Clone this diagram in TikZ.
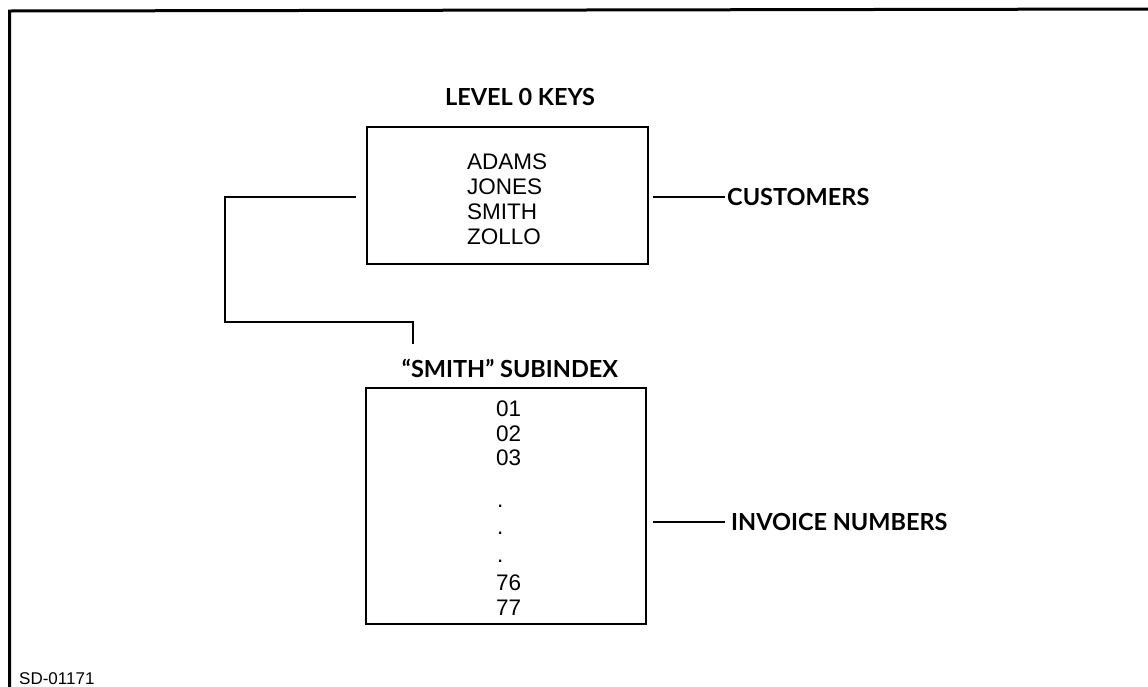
\documentclass[tikz,border=0pt]{standalone}
\usepackage{fontspec}
\setmainfont{Liberation Sans}
\newfontfamily\lblfont{Lato}
\begin{document}
\begin{tikzpicture}[x=1pt,y=-1pt,
  box/.style={draw,line width=2.4pt,minimum width=#1,inner sep=0pt},
  entry/.style={anchor=base west,inner sep=0pt,font=\fontsize{22.5}{26}\selectfont},
  lbl/.style={inner sep=0pt,font=\lblfont\bfseries\fontsize{23.5}{27}\selectfont},
  conn/.style={line width=1.9pt}]
\useasboundingbox (0,0) rectangle (1148,686);
% frame
\draw[line width=3pt] (9.5,700) -- (9.5,11) -- (1160,9);
% top box
\node[box=281pt,minimum height=137pt] (top) at (507.5,195.5) {};
\node[lbl] (keys) at (520,97) {LEVEL 0 KEYS};
\node[entry] (k1) at (467,169) {ADAMS};
\node[entry] (k2) at (467,194) {JONES};
\node[entry] (k3) at (467,219.5) {SMITH};
\node[entry] (k4) at (467,244) {ZOLLO};
% bottom box
\node[box=280pt,minimum height=236pt] (sub) at (506,506) {};
\node[lbl] (subl) at (510,368) {“SMITH” SUBINDEX};
\node[entry] (s1) at (496,416) {01};
\node[entry] (s2) at (496,441) {02};
\node[entry] (s3) at (496,465) {03};
\node[entry] (d1) at (497,507.5) {.};
\node[entry] (d2) at (497,534.5) {.};
\node[entry] (d3) at (497,562.5) {.};
\node[entry] (s4) at (496,590) {76};
\node[entry] (s5) at (496,615) {77};
% labels
\node[lbl,anchor=west] (cust) at (727,197) {CUSTOMERS};
\node[lbl,anchor=west] (inv) at (731,522) {INVOICE NUMBERS};
\node[anchor=base west,inner sep=0pt,font=\fontsize{17}{20}\selectfont] (sd) at (19,684) {SD-01171};
% connectors
\coordinate (c1) at (356,197);
\coordinate (c2) at (225,197);
\coordinate (c3) at (225,322);
\coordinate (c4) at (413,322);
\coordinate (c5) at (413,344);
\draw[conn] (c1) -- (c2) -- (c3) -- (c4) -- (c5);
\coordinate (r1) at (653,197);
\draw[conn] (r1) -- ([xshift=-2pt]cust.west);
\coordinate (r2) at (653,522);
\draw[conn] (r2) -- ([xshift=-6pt]inv.west);
\end{tikzpicture}
\end{document}
